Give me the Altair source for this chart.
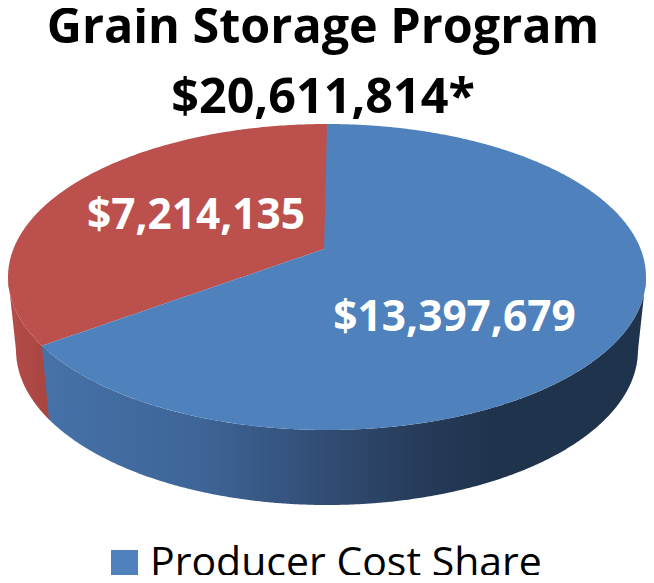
import numpy as np
import pandas as pd
import altair as alt

title_lines = ["Grain Storage Program", "$20,611,814*"]
slice_labels = ["$7,214,135", "$13,397,679"]
legend_label = "Producer Cost Share"

# Pixel-space geometry of the tilted disc
W, H = 646, 575
CX, CY, RX, RY = 327.0, 277.0, 319.0, 153.0      # top face ellipse
APEX_X, APEX_Y = 327.0, 248.0                    # shifted by perspective
LCX, LCY, LRX, LRY = 327.0, 350.0, 311.0, 155.0  # rim's lower ellipse
CUT_X = 42.0                                     # where the slices meet on the rim
WALL_CUT_X = 49.0


def top_up(x):
    return CY - RY * np.sqrt(np.clip(1 - ((x - CX) / RX) ** 2, 0, 1))


def top_low(x):
    return CY + RY * np.sqrt(np.clip(1 - ((x - CX) / RX) ** 2, 0, 1))


def wall_low(x):
    inner = LCY + LRY * np.sqrt(np.clip(1 - ((x - LCX) / LRX) ** 2, 0, 1))
    left = CY + (x - (CX - RX)) / (LCX - LRX - (CX - RX)) * (LCY - CY)
    right = CY + ((CX + RX) - x) / ((CX + RX) - (LCX + LRX)) * (LCY - CY)
    out = np.where(x < LCX - LRX, left, inner)
    return np.where(x > LCX + LRX, right, out)


def edge_grid(a, b, n=400):
    # denser near the ends, where the ellipse is steep
    t = (1 - np.cos(np.linspace(0, np.pi, n))) / 2
    return a + (b - a) * t


cut_y = float(top_low(np.array(CUT_X)))
wall_cut_y = float(wall_low(np.array(WALL_CUT_X)))


def spoke(x):
    return cut_y + (x - CUT_X) / (APEX_X - CUT_X) * (APEX_Y - cut_y)


def frame(x, y0, y1, series=None):
    d = pd.DataFrame({"x": x, "y0": y0, "y1": y1})
    if series:
        d["series"] = series
    return d


xs = alt.X("x:Q", scale=alt.Scale(domain=[0, W], nice=False, zero=False), axis=None)
ys = alt.Y("y0:Q", scale=alt.Scale(domain=[H, 0], nice=False, zero=False), axis=None)
y2 = alt.Y2("y1:Q")

# Red rim
x = edge_grid(CX - RX, WALL_CUT_X, 120)
red_wall = alt.Chart(frame(x, top_low(x), wall_low(x))).mark_area(
    color=alt.Gradient(gradient="linear", x1=0, x2=1, y1=0, y2=0,
                       stops=[alt.GradientStop(color="#b54c49", offset=0),
                              alt.GradientStop(color="#a84541", offset=1)])
).encode(x=xs, y=ys, y2=y2)

# Blue rim
x = np.concatenate([np.linspace(CUT_X, WALL_CUT_X, 20), edge_grid(WALL_CUT_X, CX + RX, 500)[1:]])
lower = np.where(x < WALL_CUT_X,
                 cut_y + (x - CUT_X) / (WALL_CUT_X - CUT_X) * (wall_cut_y - cut_y),
                 wall_low(x))
blue_wall = alt.Chart(frame(x, top_low(x), lower)).mark_area(
    color=alt.Gradient(gradient="linear", x1=0, x2=1, y1=0, y2=0,
                       stops=[alt.GradientStop(color="#4672a9", offset=0),
                              alt.GradientStop(color="#3e6597", offset=0.26),
                              alt.GradientStop(color="#304a70", offset=0.49),
                              alt.GradientStop(color="#263c5a", offset=0.62),
                              alt.GradientStop(color="#20334d", offset=0.75),
                              alt.GradientStop(color="#20334d", offset=1)])
).encode(x=xs, y=ys, y2=y2)

# Red top face
x = np.concatenate([edge_grid(CX - RX, CUT_X, 100), np.linspace(CUT_X, APEX_X, 100)[1:]])
lower = np.where(x < CUT_X, top_low(x), spoke(x))
red_top = alt.Chart(frame(x, top_up(x), lower)).mark_area(color="#BC504D").encode(x=xs, y=ys, y2=y2)

# Blue top face
x = np.concatenate([np.linspace(CUT_X, APEX_X, 100), edge_grid(APEX_X, CX + RX, 400)[1:]])
upper = np.where(x < APEX_X, spoke(x), top_up(x))
blue_top = alt.Chart(frame(x, upper, top_low(x), legend_label)).mark_area().encode(
    x=xs, y=ys, y2=y2,
    color=alt.Color("series:N",
                    scale=alt.Scale(domain=[legend_label], range=["#4F81BD"]),
                    legend=alt.Legend(title=None, orient="none", legendX=104, legendY=543,
                                      symbolType="square", symbolSize=729, symbolStrokeWidth=0,
                                      labelFont="Open Sans", labelFontSize=41, labelColor="#000000",
                                      labelLimit=500, labelOffset=5, padding=0, rowPadding=0,
                                      columnPadding=0)),
)

labels = pd.DataFrame({"x": [196, 454.5], "y0": [229, 331], "t": slice_labels})
label_marks = alt.Chart(labels).mark_text(
    font="Open Sans", fontWeight="bold", fontSize=42.4, color="white", align="center", baseline="alphabetic"
).encode(x=xs, y=ys, text="t:N")

chart = alt.layer(red_wall, blue_wall, red_top, blue_top, label_marks).properties(
    width=W, height=H,
    padding={"left": -8, "top": -8, "right": 0, "bottom": 0},
    autosize=alt.AutoSizeParams(type="none"),
    title=alt.TitleParams(text=title_lines, font="Open Sans", fontWeight="bold", fontSize=48.5, color="black",
                          anchor="middle", lineHeight=70, dy=127, frame="group"),
).configure_view(stroke=None)

chart.save("out.html", embed_options={"renderer": "svg", "actions": False})
